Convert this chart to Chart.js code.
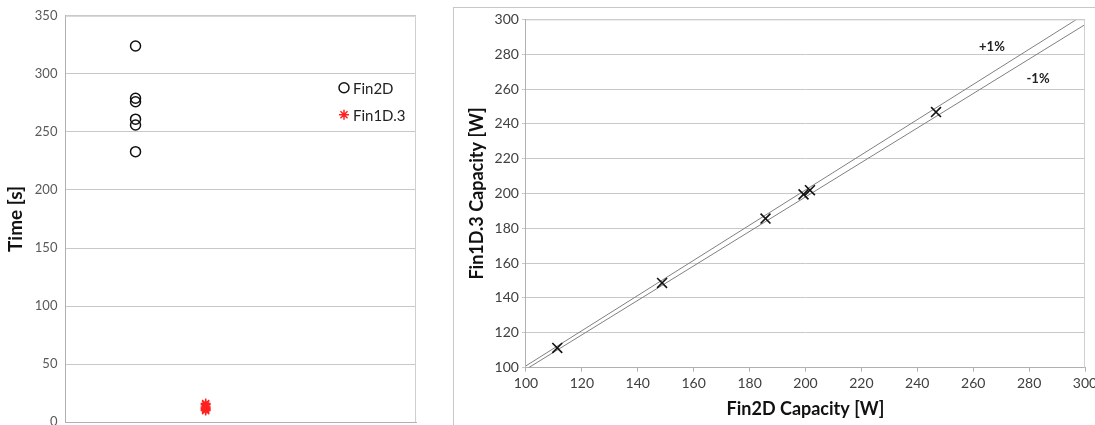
<!DOCTYPE html>
<html>
<head>
<meta charset="utf-8">
<script src="https://cdn.jsdelivr.net/npm/chart.js@4"></script>
<style>
    html, body { margin: 0; padding: 0; background: #fff; overflow: hidden; width: 1095px; height: 425px; }
    #left { position: absolute; left: 0; top: 0; width: 440px; height: 440px; }
    #frame { position: absolute; left: 453px; top: 7px; width: 700px; height: 460px; border: 1px solid #c8c8c8; overflow: hidden; }
</style>
</head>
<body>
<div id="left"><canvas id="chartTime" width="440" height="438"></canvas></div>
<div id="frame"><canvas id="chartCapacity" width="660" height="420"></canvas></div>
<script>
// waktu komputasi per model
var fin2dTimes = [324, 279, 276, 261, 256, 233];
var fin1dTimes = [16, 15, 13, 12, 11, 10];
var fin2dSlot = 1;
var fin1dSlot = 2;
var timeTicks = [0, 50, 100, 150, 200, 250, 300, 350];

// kapasitas Fin2D vs Fin1D.3
var fin2dCapacity = [111.2, 148.7, 185.7, 199.3, 201.6, 246.7];
var fin1dCapacity = [111.3, 148.6, 185.6, 199.5, 201.9, 246.8];
var plusLineX = [100, 297.0];
var plusLineY = [101, 300];
var minusLineX = [101.0, 300];
var minusLineY = [100, 297];
var bandLabels = ['+1%', '-1%'];
var bandLabelX = [266.7, 283.2];
var bandLabelY = [284.3, 266];

var font = 'Lato, "Open Sans", sans-serif';

function toPoints(xs, ys) {
    return xs.map(function (x, i) { return { x: x, y: ys[i] }; });
}

// garis tepi area plot
var plotFrame = {
    id: 'plotFrame',
    afterDraw: function (chart) {
        var a = chart.chartArea, c = chart.ctx;
        c.save();
        c.strokeStyle = '#d0d0d0';
        c.lineWidth = 1;
        c.beginPath();
        c.moveTo(a.left, a.top + 0.5);
        c.lineTo(a.right - 0.5, a.top + 0.5);
        c.lineTo(a.right - 0.5, a.bottom);
        c.stroke();
        c.restore();
    }
};

// legenda di dalam area plot (kanan atas)
var innerLegend = {
    id: 'innerLegend',
    afterDraw: function (chart) {
        var a = chart.chartArea, c = chart.ctx;
        var x = a.right - 72, y = a.top + 72;
        c.save();
        c.font = '15px ' + font;
        c.textBaseline = 'middle';
        chart.data.datasets.forEach(function (ds, i) {
            var yy = y + i * 27;
            c.strokeStyle = ds.borderColor;
            c.fillStyle = 'rgba(0,0,0,0)';
            c.lineWidth = ds.borderWidth;
            Chart.helpers.drawPoint(c, {
                pointStyle: ds.pointStyle,
                radius: ds.pointRadius,
                borderWidth: ds.borderWidth
            }, x, yy);
            c.fillStyle = '#222';
            c.fillText(ds.label, x + 9, yy + 1);
        });
        c.restore();
    }
};

// label +1% / -1%
var bandText = {
    id: 'bandText',
    afterDraw: function (chart) {
        var sx = chart.scales.x, sy = chart.scales.y, c = chart.ctx;
        c.save();
        c.font = 'bold 13px ' + font;
        c.fillStyle = '#222';
        c.textAlign = 'center';
        c.textBaseline = 'middle';
        bandLabels.forEach(function (t, i) {
            c.fillText(t, sx.getPixelForValue(bandLabelX[i]), sy.getPixelForValue(bandLabelY[i]));
        });
        c.restore();
    }
};

document.addEventListener("DOMContentLoaded", function () {
    var ctxTime = document.getElementById('chartTime').getContext('2d');
    new Chart(ctxTime, {
        type: 'scatter',
        data: {
            datasets: [{
                label: 'Fin2D',
                data: fin2dTimes.map(function (v) { return { x: fin2dSlot, y: v }; }),
                pointStyle: 'circle',
                pointRadius: 5,
                borderWidth: 1.5,
                borderColor: '#111',
                backgroundColor: 'rgba(0,0,0,0)'
            }, {
                label: 'Fin1D.3',
                data: fin1dTimes.map(function (v) { return { x: fin1dSlot, y: v }; }),
                pointStyle: 'star',
                pointRadius: 5,
                borderWidth: 1.5,
                borderColor: '#ff2020',
                backgroundColor: '#ff2020'
            }]
        },
        options: {
            responsive: false,
            animation: false,
            layout: { padding: { top: 7, right: 24, bottom: 4, left: 4 } },
            plugins: { legend: { display: false }, tooltip: { enabled: false } },
            scales: {
                x: {
                    min: 0, max: 5,
                    ticks: { display: false },
                    grid: { display: false },
                    border: { color: '#b0b0b0' }
                },
                y: {
                    min: 0, max: 350,
                    afterBuildTicks: function (s) { s.ticks = timeTicks.map(function (v) { return { value: v }; }); },
                    ticks: { color: '#595959', font: { family: font, size: 13 }, padding: 8 },
                    grid: { color: '#c8c8c8', drawTicks: false },
                    border: { color: '#b0b0b0' },
                    title: { display: true, text: 'Time [s]', color: '#111', font: { family: font, size: 19, weight: 'bold' }, padding: { top: 0, bottom: 0 } }
                }
            }
        },
        plugins: [plotFrame, innerLegend]
    });

    var ctxCap = document.getElementById('chartCapacity').getContext('2d');
    new Chart(ctxCap, {
        type: 'scatter',
        data: {
            datasets: [{
                label: 'Fin1D.3',
                data: toPoints(fin2dCapacity, fin1dCapacity),
                pointStyle: 'crossRot',
                pointRadius: 7,
                borderWidth: 1.6,
                borderColor: '#111'
            }, {
                label: '+1%',
                type: 'line',
                data: toPoints(plusLineX, plusLineY),
                borderColor: '#808080',
                borderWidth: 1,
                pointRadius: 0
            }, {
                label: '-1%',
                type: 'line',
                data: toPoints(minusLineX, minusLineY),
                borderColor: '#808080',
                borderWidth: 1,
                pointRadius: 0
            }]
        },
        options: {
            responsive: false,
            animation: false,
            layout: { padding: { top: 9, right: 29, bottom: 4, left: 8 } },
            plugins: { legend: { display: false }, tooltip: { enabled: false } },
            scales: {
                x: {
                    type: 'linear',
                    min: 100, max: 300,
                    ticks: { stepSize: 20, color: '#404040', font: { family: font, size: 14 } },
                    grid: { drawOnChartArea: false, tickLength: 4, color: '#b0b0b0' },
                    border: { color: '#b0b0b0' },
                    title: { display: true, text: 'Fin2D Capacity [W]', color: '#111', font: { family: font, size: 18, weight: 'bold' } }
                },
                y: {
                    min: 100, max: 300,
                    ticks: { stepSize: 20, color: '#404040', font: { family: font, size: 14 } },
                    grid: { color: '#c8c8c8', tickLength: 4 },
                    border: { color: '#b0b0b0' },
                    title: { display: true, text: 'Fin1D.3 Capacity [W]', color: '#111', font: { family: font, size: 18, weight: 'bold' } }
                }
            }
        },
        plugins: [plotFrame, bandText]
    });
});
</script>
</body>
</html>
